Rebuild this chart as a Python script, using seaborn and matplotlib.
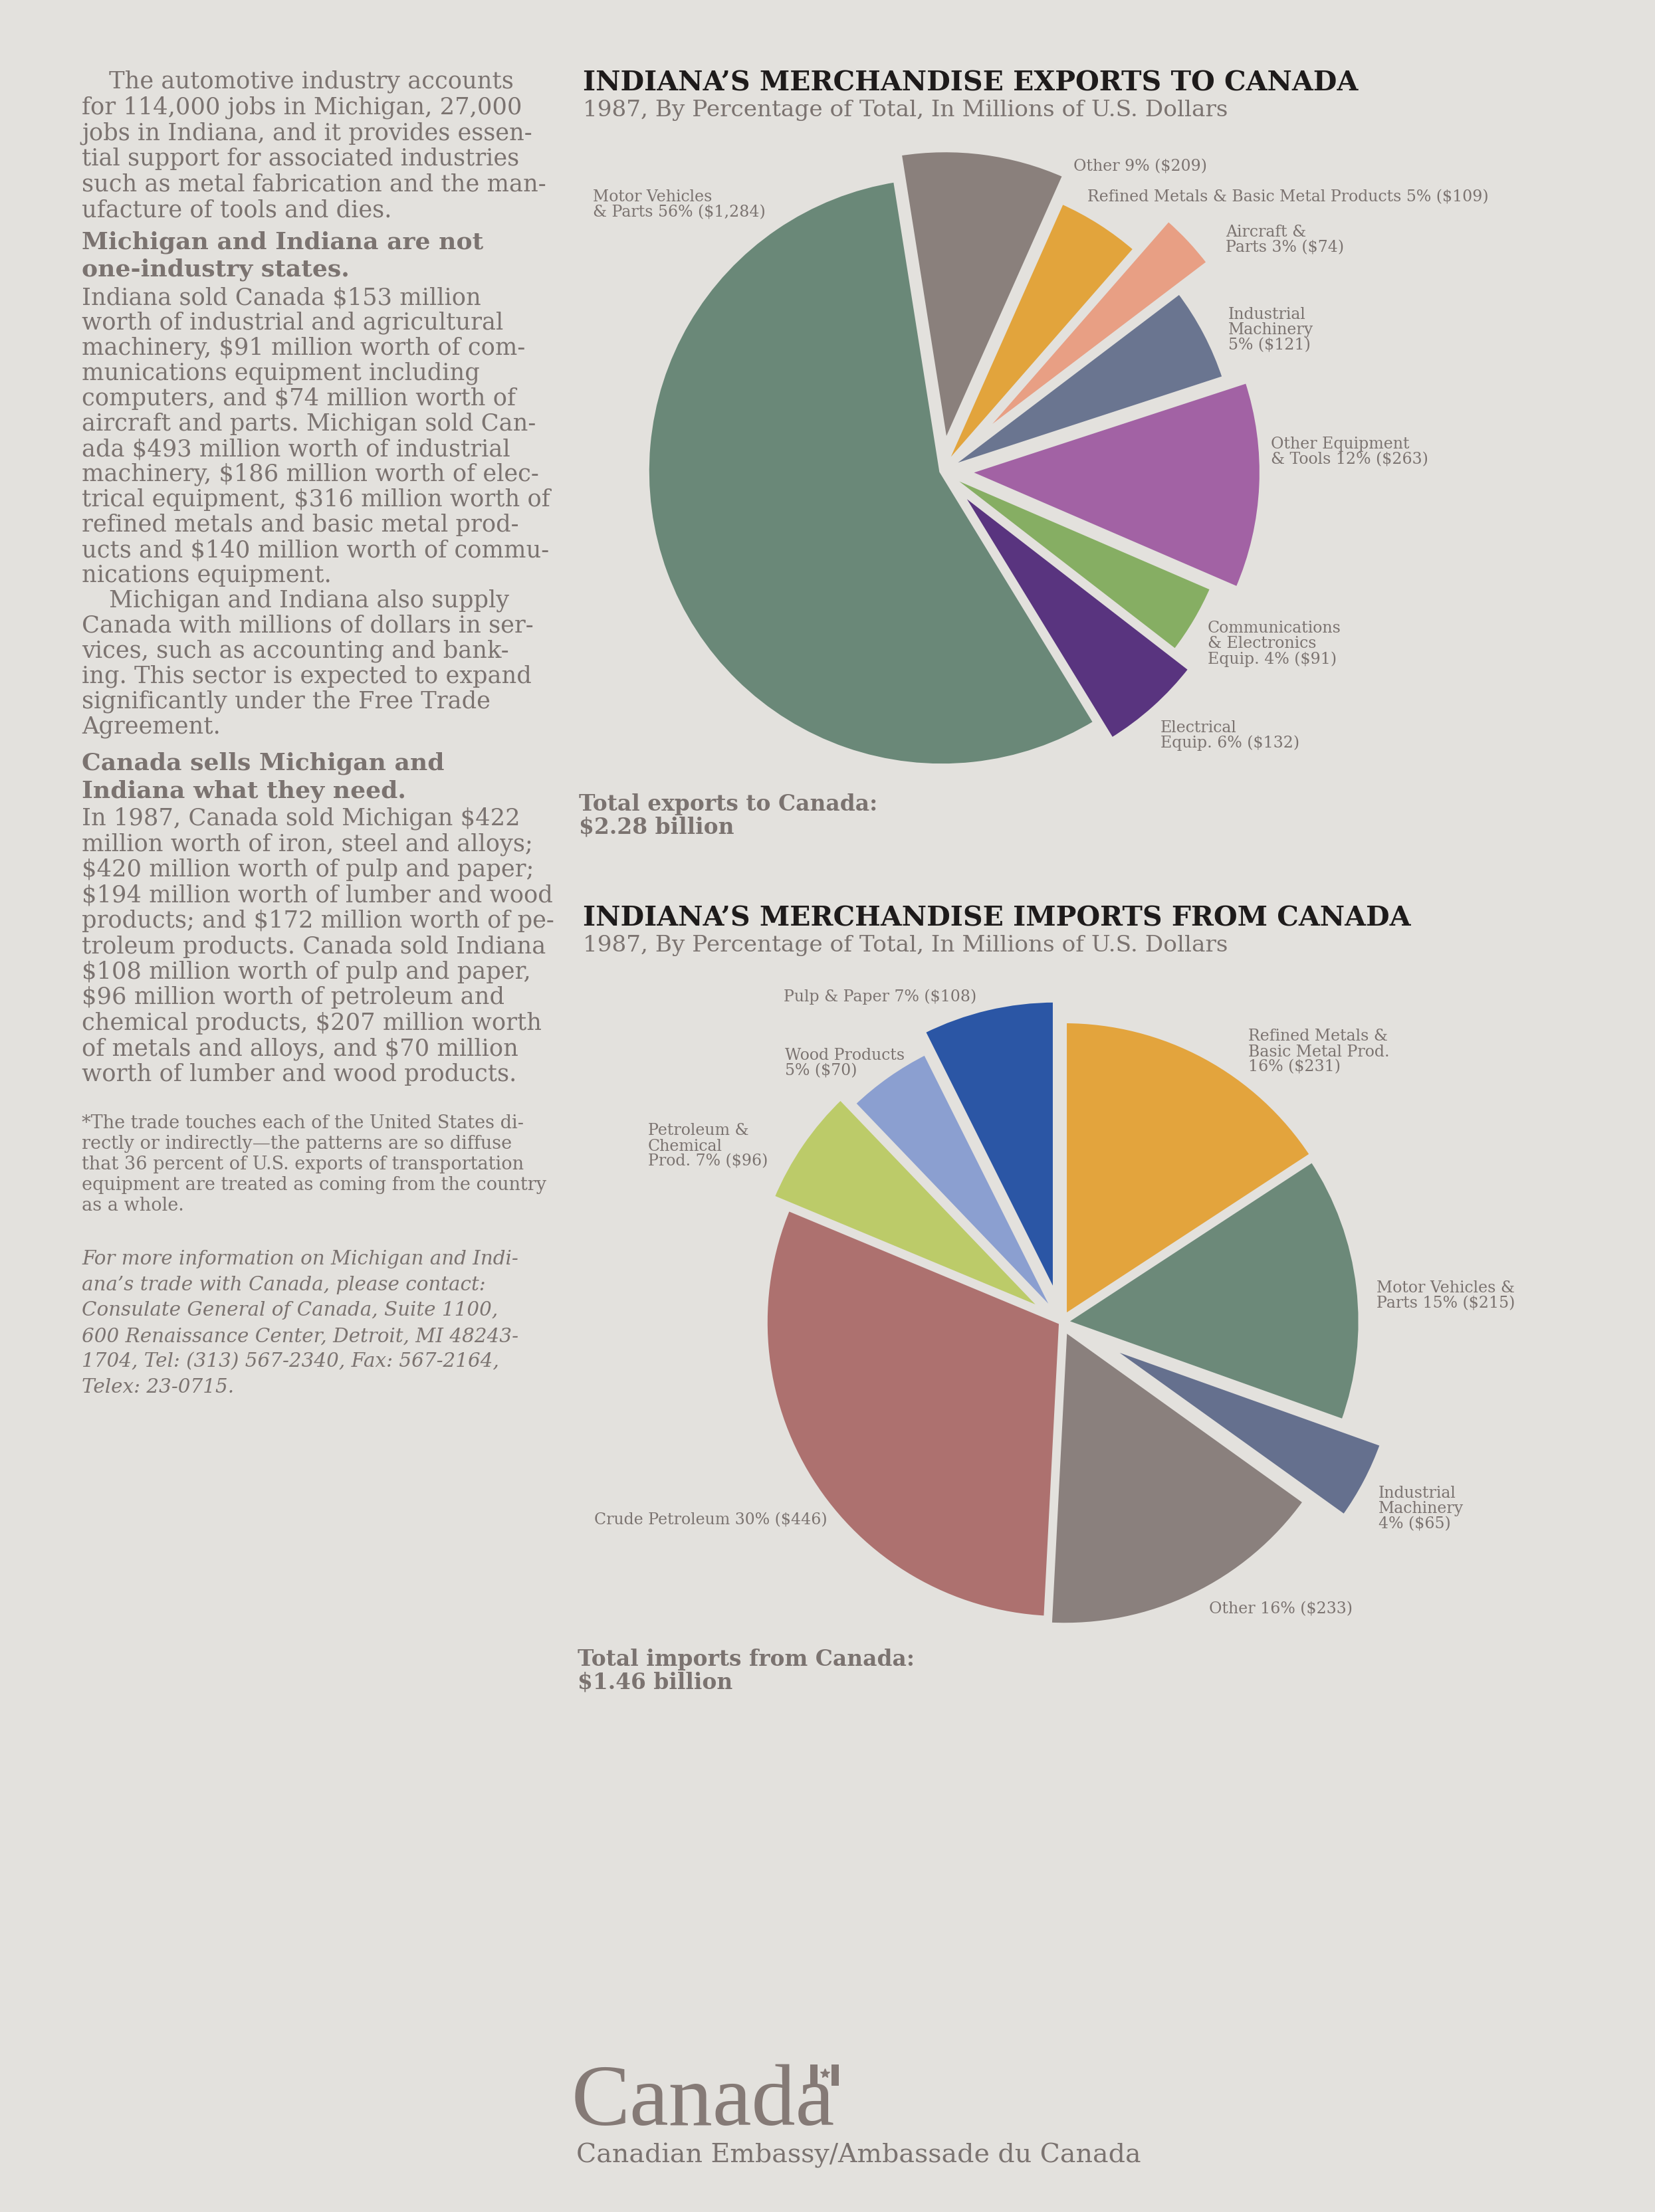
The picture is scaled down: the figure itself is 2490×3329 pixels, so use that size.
import matplotlib
matplotlib.use("Agg")
import matplotlib.pyplot as plt
import seaborn as sns
from matplotlib.patches import Rectangle

W, H = 2490, 3330
BG = "#e3e1dd"
INK = "#7b7370"
DARK = "#1e1b1b"

# ---- data: exports (clockwise from the top) ----
export_names = ["Other ", "Refined Metals & Basic Metal Products ", "Aircraft &\nParts ",
                "Industrial\nMachinery\n", "Other Equipment\n& Tools ",
                "Communications\n& Electronics\nEquip. ", "Electrical\nEquip. ",
                "Motor Vehicles\n& Parts "]
export_pcts = [9, 5, 3, 5, 12, 4, 6, 56]
export_values = [209, 109, 74, 121, 263, 91, 132, 1284]
export_colors = ["#8a807c", "#e2a43c", "#e89f84", "#6a7590", "#a262a4",
                 "#86ae63", "#59347f", "#6a8878"]
export_explode = [0.09, 0.0, 0.15, 0.01, 0.085, 0.0, 0.08, 0.0]

# ---- data: imports (clockwise from the top) ----
import_names = ["Refined Metals &\nBasic Metal Prod.\n", "Motor Vehicles &\nParts ",
                "Industrial\nMachinery\n", "Other ", "Crude Petroleum ",
                "Petroleum &\nChemical\nProd. ", "Wood Products\n", "Pulp & Paper "]
import_pcts = [16, 15, 4, 16, 30, 7, 5, 7]
import_values = [231, 215, 65, 233, 446, 96, 70, 108]
import_colors = ["#e3a43d", "#6c8979", "#65708e", "#8a807d", "#ad716f",
                 "#bccb69", "#8b9fd0", "#2b56a5"]
import_explode = [0.02, 0.01, 0.16, 0.025, 0.0, 0.065, 0.02, 0.09]

total_exports = "$2.28 billion"
total_imports = "$1.46 billion"

# label anchor positions (left x, centre y), pixels from top-left
export_label_pos = [(1615, 251), (1636, 297), (1844, 361), (1848, 497),
                    (1912, 680), (1817, 969), (1746, 1107), (892, 308)]
import_label_pos = [(1878, 1583), (2071, 1950), (2074, 2271), (1819, 2422),
                    (894, 2288), (975, 1725), (1181, 1600), (1179, 1500)]

para1 = ["The automotive industry accounts",
         "for 114,000 jobs in Michigan, 27,000",
         "jobs in Indiana, and it provides essen-",
         "tial support for associated industries",
         "such as metal fabrication and the man-",
         "ufacture of tools and dies."]
head1 = ["Michigan and Indiana are not", "one-industry states."]
para2 = ["Indiana sold Canada $153 million",
         "worth of industrial and agricultural",
         "machinery, $91 million worth of com-",
         "munications equipment including",
         "computers, and $74 million worth of",
         "aircraft and parts. Michigan sold Can-",
         "ada $493 million worth of industrial",
         "machinery, $186 million worth of elec-",
         "trical equipment, $316 million worth of",
         "refined metals and basic metal prod-",
         "ucts and $140 million worth of commu-",
         "nications equipment.",
         "Michigan and Indiana also supply",
         "Canada with millions of dollars in ser-",
         "vices, such as accounting and bank-",
         "ing. This sector is expected to expand",
         "significantly under the Free Trade",
         "Agreement."]
head2 = ["Canada sells Michigan and", "Indiana what they need."]
para4 = ["In 1987, Canada sold Michigan $422",
         "million worth of iron, steel and alloys;",
         "$420 million worth of pulp and paper;",
         "$194 million worth of lumber and wood",
         "products; and $172 million worth of pe-",
         "troleum products. Canada sold Indiana",
         "$108 million worth of pulp and paper,",
         "$96 million worth of petroleum and",
         "chemical products, $207 million worth",
         "of metals and alloys, and $70 million",
         "worth of lumber and wood products."]
foot = ["*The trade touches each of the United States di-",
        "rectly or indirectly\u2014the patterns are so diffuse",
        "that 36 percent of U.S. exports of transportation",
        "equipment are treated as coming from the country",
        "as a whole."]
contact = ["For more information on Michigan and Indi-",
           "ana\u2019s trade with Canada, please contact:",
           "Consulate General of Canada, Suite 1100,",
           "600 Renaissance Center, Detroit, MI 48243-",
           "1704, Tel: (313) 567-2340, Fax: 567-2164,",
           "Telex: 23-0715."]

sns.set_theme(style="white", rc={"figure.facecolor": BG, "axes.facecolor": BG})
plt.rcParams["font.family"] = ["DejaVu Serif", "DejaVu Sans"]
plt.rcParams["text.parse_math"] = False

fig = plt.figure(figsize=(W / 100, H / 100), dpi=100)
ax = fig.add_axes([0, 0, 1, 1])
ax.set_facecolor(BG)
renderer = fig.canvas.get_renderer()


def fit_size(text, width, **kw):
    t = ax.text(0, 0, text, fontsize=20, **kw)
    w = t.get_window_extent(renderer=renderer).width
    t.remove()
    return 20.0 * width / w


def put(x, y, s, **kw):
    return ax.text(x, H - y, s, **kw)


def block(lines, x, y0, dy, size, indent=(), **kw):
    for i, line in enumerate(lines):
        xx = x + 41 if i in indent else x
        put(xx, y0 + i * dy, line, fontsize=size, color=INK, va="center", ha="left", **kw)


# ---- pies (explode is given in data units, so scale by the radius) ----
R1, R2 = 444, 446
ax.pie(export_values, colors=sns.color_palette(export_colors), startangle=99,
       counterclock=False, explode=[e * R1 for e in export_explode], radius=R1,
       center=(1417, H - 710), wedgeprops=dict(edgecolor=BG, linewidth=5.5), frame=False)
ax.pie(import_values, colors=sns.color_palette(import_colors), startangle=90,
       counterclock=False, explode=[e * R2 for e in import_explode], radius=R2,
       center=(1597, H - 1991), wedgeprops=dict(edgecolor=BG, linewidth=5.5), frame=False)
ax.set_xlim(0, W)
ax.set_ylim(0, H)
ax.axis("off")

# ---- left column ----
body_size = fit_size("trical equipment, $316 million worth of", 705)
head_size = fit_size("Michigan and Indiana are not", 603, fontweight="bold")
foot_size = fit_size("equipment are treated as coming from the country", 697)
ital_size = fit_size("600 Renaissance Center, Detroit, MI 48243-", 656, style="italic")

block(para1, 123, 123, 38.7, body_size, indent=(0,))
block(head1, 123, 365, 40.5, head_size, fontweight="bold")
block(para2, 123, 448, 38.0, body_size, indent=(12,))
block(head2, 123, 1149, 42.0, head_size, fontweight="bold")
block(para4, 123, 1232, 38.5, body_size)
block(foot, 123, 1691, 30.8, foot_size)
block(contact, 123, 1895, 38.7, ital_size, style="italic")

# ---- titles ----
title_size = fit_size("INDIANA\u2019S MERCHANDISE IMPORTS FROM CANADA", 1243, fontweight="bold")
sub_size = fit_size("1987, By Percentage of Total, In Millions of U.S. Dollars", 969)
total_size = fit_size("Total imports from Canada:", 506, fontweight="bold")

put(877, 125, "INDIANA\u2019S MERCHANDISE EXPORTS TO CANADA", fontsize=title_size,
    fontweight="bold", color=DARK, va="center")
put(877, 166, "1987, By Percentage of Total, In Millions of U.S. Dollars",
    fontsize=sub_size, color=INK, va="center")
put(877, 1383, "INDIANA\u2019S MERCHANDISE IMPORTS FROM CANADA", fontsize=title_size,
    fontweight="bold", color=DARK, va="center")
put(877, 1423, "1987, By Percentage of Total, In Millions of U.S. Dollars",
    fontsize=sub_size, color=INK, va="center")

put(871, 1228, "Total exports to Canada:\n" + total_exports, fontsize=total_size,
    fontweight="bold", color=INK, va="center", linespacing=1.05)
put(869, 2515, "Total imports from Canada:\n" + total_imports, fontsize=total_size,
    fontweight="bold", color=INK, va="center", linespacing=1.05)

# ---- slice labels ----
lab_size = 1.05 * fit_size("Refined Metals & Basic Metal Products 5% ($109)", 574)
for name, pct, val, (x, y) in zip(export_names, export_pcts, export_values, export_label_pos):
    put(x, y, f"{name}{pct}% (${val:,})", fontsize=lab_size, color=INK,
        va="center", ha="left", linespacing=1.0)
for name, pct, val, (x, y) in zip(import_names, import_pcts, import_values, import_label_pos):
    put(x, y, f"{name}{pct}% (${val:,})", fontsize=lab_size, color=INK,
        va="center", ha="left", linespacing=1.0)

# ---- Canada wordmark ----
WM = "#857a76"
mark_size = fit_size("Canada", 397, family="Liberation Serif")
put(860, 3198, "Canada", fontsize=mark_size, family="Liberation Serif", color=WM,
    va="baseline", ha="left")
for bx in (1219, 1251):
    ax.add_patch(Rectangle((bx, H - 3140), 11, 32, color=WM, lw=0))
ax.plot([1240.5], [H - 3121], marker="*", markersize=10, color=WM, lw=0)
emb_size = fit_size("Canadian Embassy/Ambassade du Canada", 846)
put(867, 3244, "Canadian Embassy/Ambassade du Canada", fontsize=emb_size, color=INK,
    va="center", ha="left")

fig.savefig("out.png", dpi=100, facecolor=BG)
